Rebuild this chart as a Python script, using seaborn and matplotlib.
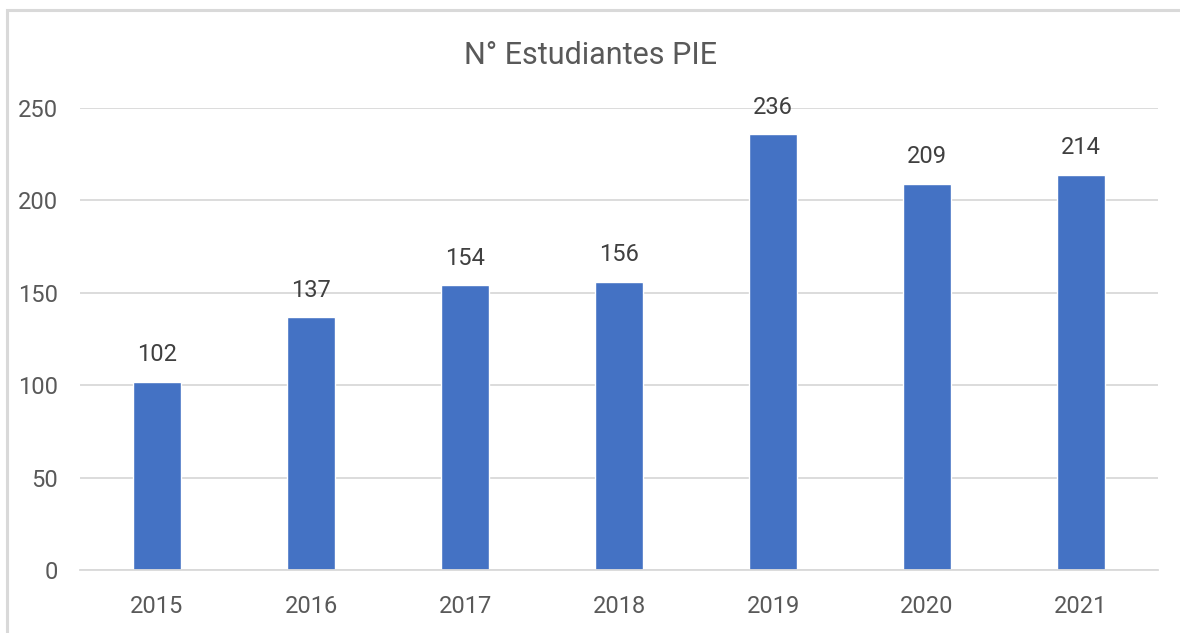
import matplotlib
matplotlib.use('Agg')
import matplotlib.pyplot as plt
from matplotlib.patches import Rectangle
from matplotlib import font_manager
import seaborn as sns
import pandas as pd

years = ['2015', '2016', '2017', '2018', '2019', '2020', '2021']
students = [102, 137, 154, 156, 236, 209, 214]

sns.set_theme(style='white')
names = {f.name for f in font_manager.fontManager.ttflist}
fam = 'Liberation Sans Narrow' if 'Liberation Sans Narrow' in names else 'Roboto'
plt.rcParams['font.family'] = [fam, 'DejaVu Sans']

df = pd.DataFrame({'year': years, 'n': students})

fig = plt.figure(figsize=(11.8, 6.33), dpi=100)
ax = fig.add_axes([80 / 1180, 1 - 570 / 633, 1078 / 1180, 462 / 633])
sns.barplot(data=df, x='year', y='n', color='#4472C4', saturation=1, width=0.31, ax=ax)

ax.set_xlim(-0.5, 6.5)
ax.set_ylim(0, 250)
ax.set_yticks([0, 50, 100, 150, 200, 250])
ax.yaxis.grid(True, color='#d9d9d9', linewidth=1.3)
ax.set_axisbelow(True)
for s in ['top', 'right', 'left']:
    ax.spines[s].set_visible(False)
ax.spines['bottom'].set_color('#d9d9d9')
ax.spines['bottom'].set_linewidth(1.3)
ax.tick_params(axis='both', length=0, labelsize=17, labelcolor='#595959')
ax.tick_params(axis='y', pad=16)
ax.tick_params(axis='x', pad=18)
ax.set_xlabel('')
ax.set_ylabel('')

for i, v in enumerate(students):
    ax.annotate(str(v), (i, v), textcoords='offset points', xytext=(0, 11),
                ha='center', va='bottom', fontsize=17, color='#404040')

fig.text(0.5, 1 - 56 / 633, 'N° Estudiantes PIE', ha='center', va='center',
         fontsize=22, color='#595959')

fig.patches.append(Rectangle((7 / 1180, -0.1), 1.2, 1 - 10 / 633 + 0.1,
                             transform=fig.transFigure, fill=False,
                             edgecolor='#d9d9d9', linewidth=2.2))

fig.savefig('out.png', dpi=100)
